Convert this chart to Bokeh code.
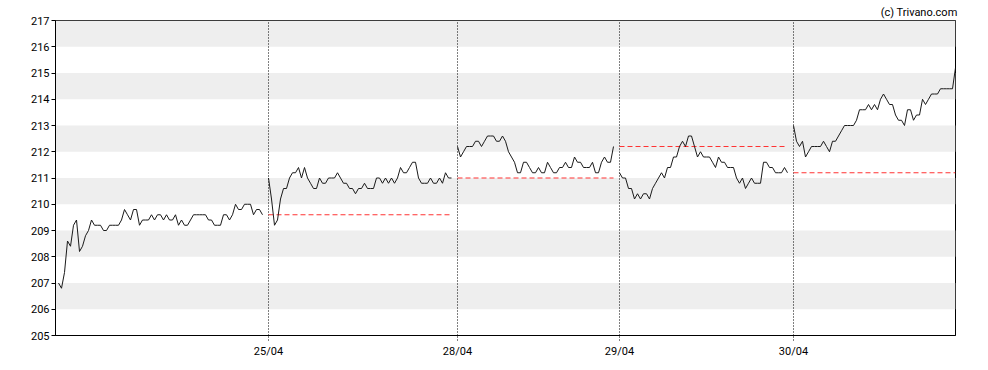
from bokeh.plotting import figure
from bokeh.models import FixedTicker, Range1d
from bokeh.embed import file_html
from bokeh.resources import INLINE

# ---- data ----
day1 = [207.0, 206.8, 207.4, 208.6, 208.4, 209.2, 209.4, 208.2, 208.4, 208.8,
        209.0, 209.4, 209.2, 209.2, 209.2, 209.0, 209.0, 209.2, 209.2, 209.2,
        209.2, 209.4, 209.8, 209.6, 209.4, 209.8, 209.8, 209.2, 209.4, 209.4,
        209.4, 209.6, 209.4, 209.6, 209.6, 209.4, 209.6, 209.4, 209.4, 209.6,
        209.2, 209.4, 209.2, 209.2, 209.4, 209.6, 209.6, 209.6, 209.6, 209.6,
        209.4, 209.4, 209.2, 209.2, 209.2, 209.6, 209.6, 209.4, 209.6, 210.0,
        209.8, 209.8, 210.0, 210.0, 210.0, 209.6, 209.8, 209.8, 209.6]
day2 = [211.0, 210.2, 209.2, 209.4, 210.2, 210.6, 210.6, 211.0, 211.2, 211.2,
        211.4, 211.0, 211.4, 211.0, 210.8, 210.6, 210.6, 211.0, 210.8, 210.8,
        211.0, 211.0, 211.0, 211.2, 211.0, 210.8, 210.8, 210.6, 210.6, 210.4,
        210.6, 210.6, 210.8, 210.6, 210.6, 210.6, 211.0, 211.0, 210.8, 211.0,
        210.8, 211.0, 210.8, 211.0, 211.4, 211.2, 211.2, 211.4, 211.6, 211.6,
        211.0, 210.8, 210.8, 210.8, 211.0, 210.8, 210.8, 211.0, 210.8, 211.2,
        211.0, 211.0]
day3 = [212.2, 211.8, 212.0, 212.2, 212.2, 212.2, 212.4, 212.4, 212.2, 212.4,
        212.6, 212.6, 212.6, 212.4, 212.4, 212.6, 212.4, 212.0, 211.8, 211.6,
        211.2, 211.2, 211.6, 211.6, 211.4, 211.2, 211.2, 211.4, 211.2, 211.2,
        211.6, 211.4, 211.2, 211.2, 211.4, 211.4, 211.6, 211.4, 211.4, 211.8,
        211.6, 211.6, 211.4, 211.4, 211.4, 211.6, 211.2, 211.2, 211.6, 211.8,
        211.6, 211.6, 212.2]
day4 = [211.2, 211.0, 211.0, 210.6, 210.6, 210.2, 210.4, 210.2, 210.4, 210.4,
        210.2, 210.6, 210.8, 211.0, 211.2, 211.0, 211.4, 211.4, 211.8, 211.8,
        212.2, 212.4, 212.2, 212.6, 212.6, 212.2, 211.8, 212.0, 211.8, 211.8,
        211.8, 211.6, 211.4, 211.8, 211.6, 211.6, 211.4, 211.4, 211.4, 211.0,
        210.8, 211.0, 210.6, 210.8, 211.0, 210.8, 210.8, 210.8, 211.6, 211.6,
        211.4, 211.4, 211.2, 211.2, 211.2, 211.4, 211.2]
day5 = [213.0, 212.4, 212.2, 212.4, 211.8, 212.0, 212.2, 212.2, 212.2, 212.2,
        212.4, 212.2, 212.0, 212.4, 212.4, 212.6, 212.8, 213.0, 213.0, 213.0,
        213.0, 213.2, 213.6, 213.6, 213.6, 213.8, 213.6, 213.8, 213.6, 214.0,
        214.2, 214.0, 213.8, 213.8, 213.4, 213.2, 213.2, 213.0, 213.6, 213.6,
        213.2, 213.4, 213.4, 214.0, 213.8, 214.0, 214.2, 214.2, 214.2, 214.4,
        214.4, 214.4, 214.4, 214.4, 215.2]
sessions = [day1, day2, day3, day4, day5]
session_labels = ["24/04", "25/04", "28/04", "29/04", "30/04"]
y_ticks = list(range(205, 218))
credit = "(c) Trivano.com"

# ---- layout of sessions on an index axis ----
starts = []
pos = 1
for s in sessions:
    starts.append(pos)
    pos += len(s) + 1
x_end = starts[-1] + len(sessions[-1]) - 1

p = figure(width=980, height=362, output_backend="svg", toolbar_location=None,
           x_range=Range1d(0, x_end), y_range=Range1d(y_ticks[0], y_ticks[-1]),
           min_border_left=55, min_border_right=25, min_border_top=20,
           min_border_bottom=27, background_fill_color="white",
           border_fill_color="white", title=credit)

p.title.align = "right"
p.title.text_font = "Roboto"
p.title.text_font_size = "11px"
p.title.text_font_style = "normal"
p.title.text_color = "black"
p.title.standoff = 4
p.title.offset = -2

p.xgrid.visible = False
p.ygrid.visible = False

# alternating bands
band_bottoms = y_ticks[1:-1:2]
p.quad(left=0, right=x_end, bottom=band_bottoms, top=[b + 1 for b in band_bottoms],
       fill_color="#eeeeee", line_color=None)

# session separators
for st in starts[1:]:
    p.segment(x0=[st], x1=[st], y0=[y_ticks[0]], y1=[y_ticks[-1]],
              line_color="black", line_width=1, line_dash="1 2")

# previous-close dashed lines
for k in range(1, len(sessions)):
    prev_close = sessions[k - 1][-1]
    st = starts[k]
    en = st + len(sessions[k]) - 1
    p.segment(x0=[st], x1=[en], y0=[prev_close], y1=[prev_close],
              line_color="#ff3333", line_width=1, line_dash="5 3")

# price line
for st, s in zip(starts, sessions):
    p.line(x=[st + i for i in range(len(s))], y=s, line_color="#1a1a1a", line_width=1)

# axes
p.yaxis.ticker = FixedTicker(ticks=y_ticks)
p.yaxis.minor_tick_line_color = None
p.yaxis.major_tick_out = 4
p.yaxis.major_tick_in = 0
p.yaxis.major_label_standoff = 2
p.xaxis.ticker = FixedTicker(ticks=starts[1:])
p.xaxis.major_label_overrides = {st: lab for st, lab in zip(starts[1:], session_labels[1:])}
p.xaxis.minor_tick_line_color = None
p.xaxis.major_tick_out = 5
p.xaxis.major_tick_in = 0
p.xaxis.major_tick_line_dash = "1 2"
p.xaxis.major_label_standoff = 4
for ax in (p.xaxis, p.yaxis):
    ax.axis_line_color = "black"
    ax.major_tick_line_color = "black"
    ax.major_label_text_color = "black"
    ax.major_label_text_font = "Roboto"
    ax.major_label_text_font_size = "11px"
p.yaxis.major_tick_line_dash = "solid"
p.outline_line_color = "black"
p.outline_line_alpha = 1

open("out.html", "w").write(file_html(p, INLINE))
